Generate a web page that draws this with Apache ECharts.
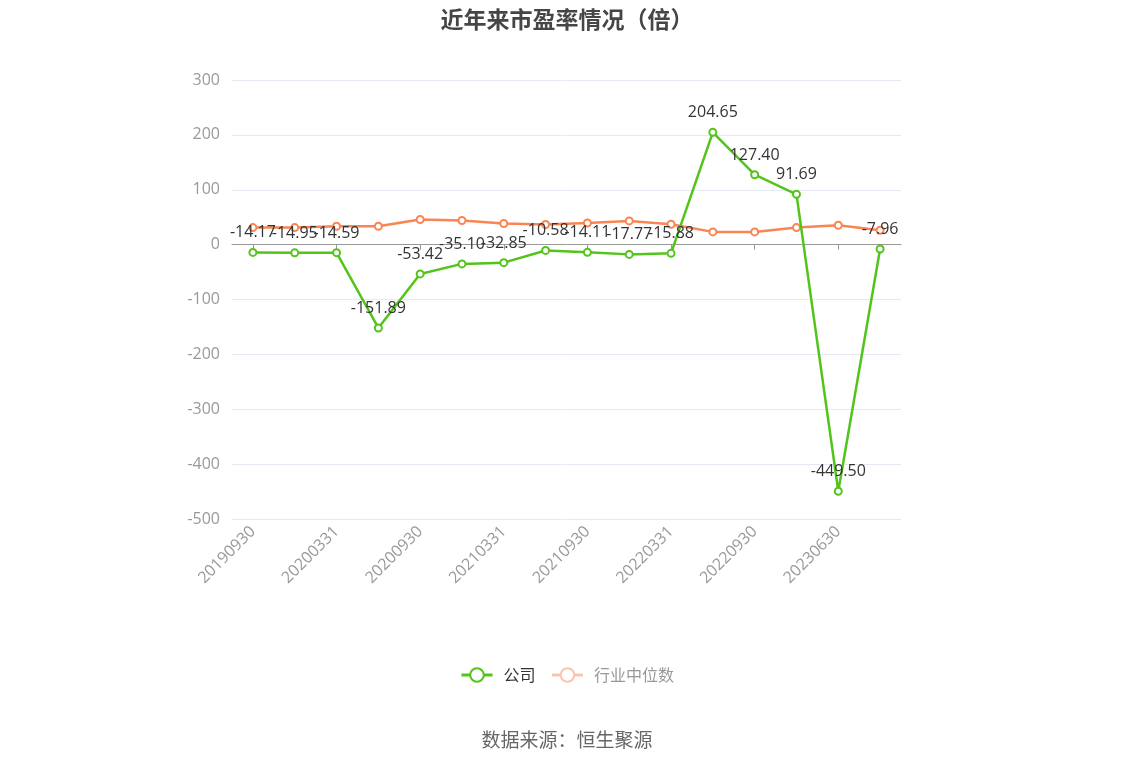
<!DOCTYPE html>
<html><head><meta charset="utf-8">
<script src="https://cdn.jsdelivr.net/npm/echarts@6/dist/echarts.min.js"></script>
<style>html,body{margin:0;padding:0;background:#fff}#c{width:1134px;height:766px}</style>
</head><body><div id="c"></div>
<script>
var categories = ['20190930','20191231','20200331','20200630','20200930','20201231','20210331','20210630','20210930','20211231','20220331','20220630','20220930','20221231','20230630','20230930'];
var companyPE = [-14.17,-14.95,-14.59,-151.89,-53.42,-35.10,-32.85,-10.58,-14.11,-17.77,-15.88,204.65,127.40,91.69,-449.50,-7.96];
var industryPE = [31,31,33.5,33.5,45.7,43.9,38.4,36.6,39.5,43.2,37.2,23.2,23.2,31,35.3,26.2];
var yTicks = {min:-500,max:300,interval:100};

var chart = echarts.init(document.getElementById('c'));
var font = '"Open Sans","Noto Sans CJK SC",sans-serif';
var cjk = '"Noto Sans CJK SC",sans-serif';
chart.setOption({
  backgroundColor:'#fff',
  textStyle:{fontFamily:font},
  title:{text:'近年来市盈率情况（倍）',left:'center',top:3,textStyle:{fontSize:23,fontWeight:'bold',color:'#464646',fontFamily:cjk}},
  grid:{left:232,right:233,top:80,bottom:247},
  legend:{bottom:78,left:'center',itemWidth:31,itemHeight:17,itemGap:15,textStyle:{fontSize:16,color:'#333',fontFamily:cjk,padding:[0,0,0,6]},
    data:[{name:'公司',lineStyle:{width:3}},{name:'行业中位数',textStyle:{color:'#999'},itemStyle:{color:'#fbc4ad'},lineStyle:{color:'#fbc4ad',width:3}}]},
  graphic:[{type:'text',left:'center',top:730,style:{text:'数据来源：恒生聚源',fontSize:19,fill:'#666',fontFamily:cjk}}],
  xAxis:{type:'category',data:categories,boundaryGap:true,
    axisLine:{onZero:true,lineStyle:{color:'#999'}},
    axisTick:{show:true,alignWithLabel:true,interval:1,lineStyle:{color:'#999'}},
    axisLabel:{interval:1,rotate:45,color:'#999',fontSize:16,margin:10}},
  yAxis:{type:'value',min:yTicks.min,max:yTicks.max,interval:yTicks.interval,
    axisLine:{show:false},axisTick:{show:false},
    axisLabel:{color:'#999',fontSize:16,margin:12},
    splitLine:{lineStyle:{color:'#e6e8f5'}}},
  series:[
    {name:'公司',type:'line',data:companyPE,symbol:'emptyCircle',symbolSize:7,
      itemStyle:{color:'#52c41a'},lineStyle:{width:2.5,color:'#52c41a'},
      label:{show:true,position:'top',distance:7,color:'#333',fontSize:16,formatter:function(p){return p.value.toFixed(2);}},z:3},
    {name:'行业中位数',type:'line',data:industryPE,symbol:'emptyCircle',symbolSize:7,
      itemStyle:{color:'#fa8452'},lineStyle:{width:2.5,color:'#fa8452'},z:2}
  ]
});
</script></body></html>
